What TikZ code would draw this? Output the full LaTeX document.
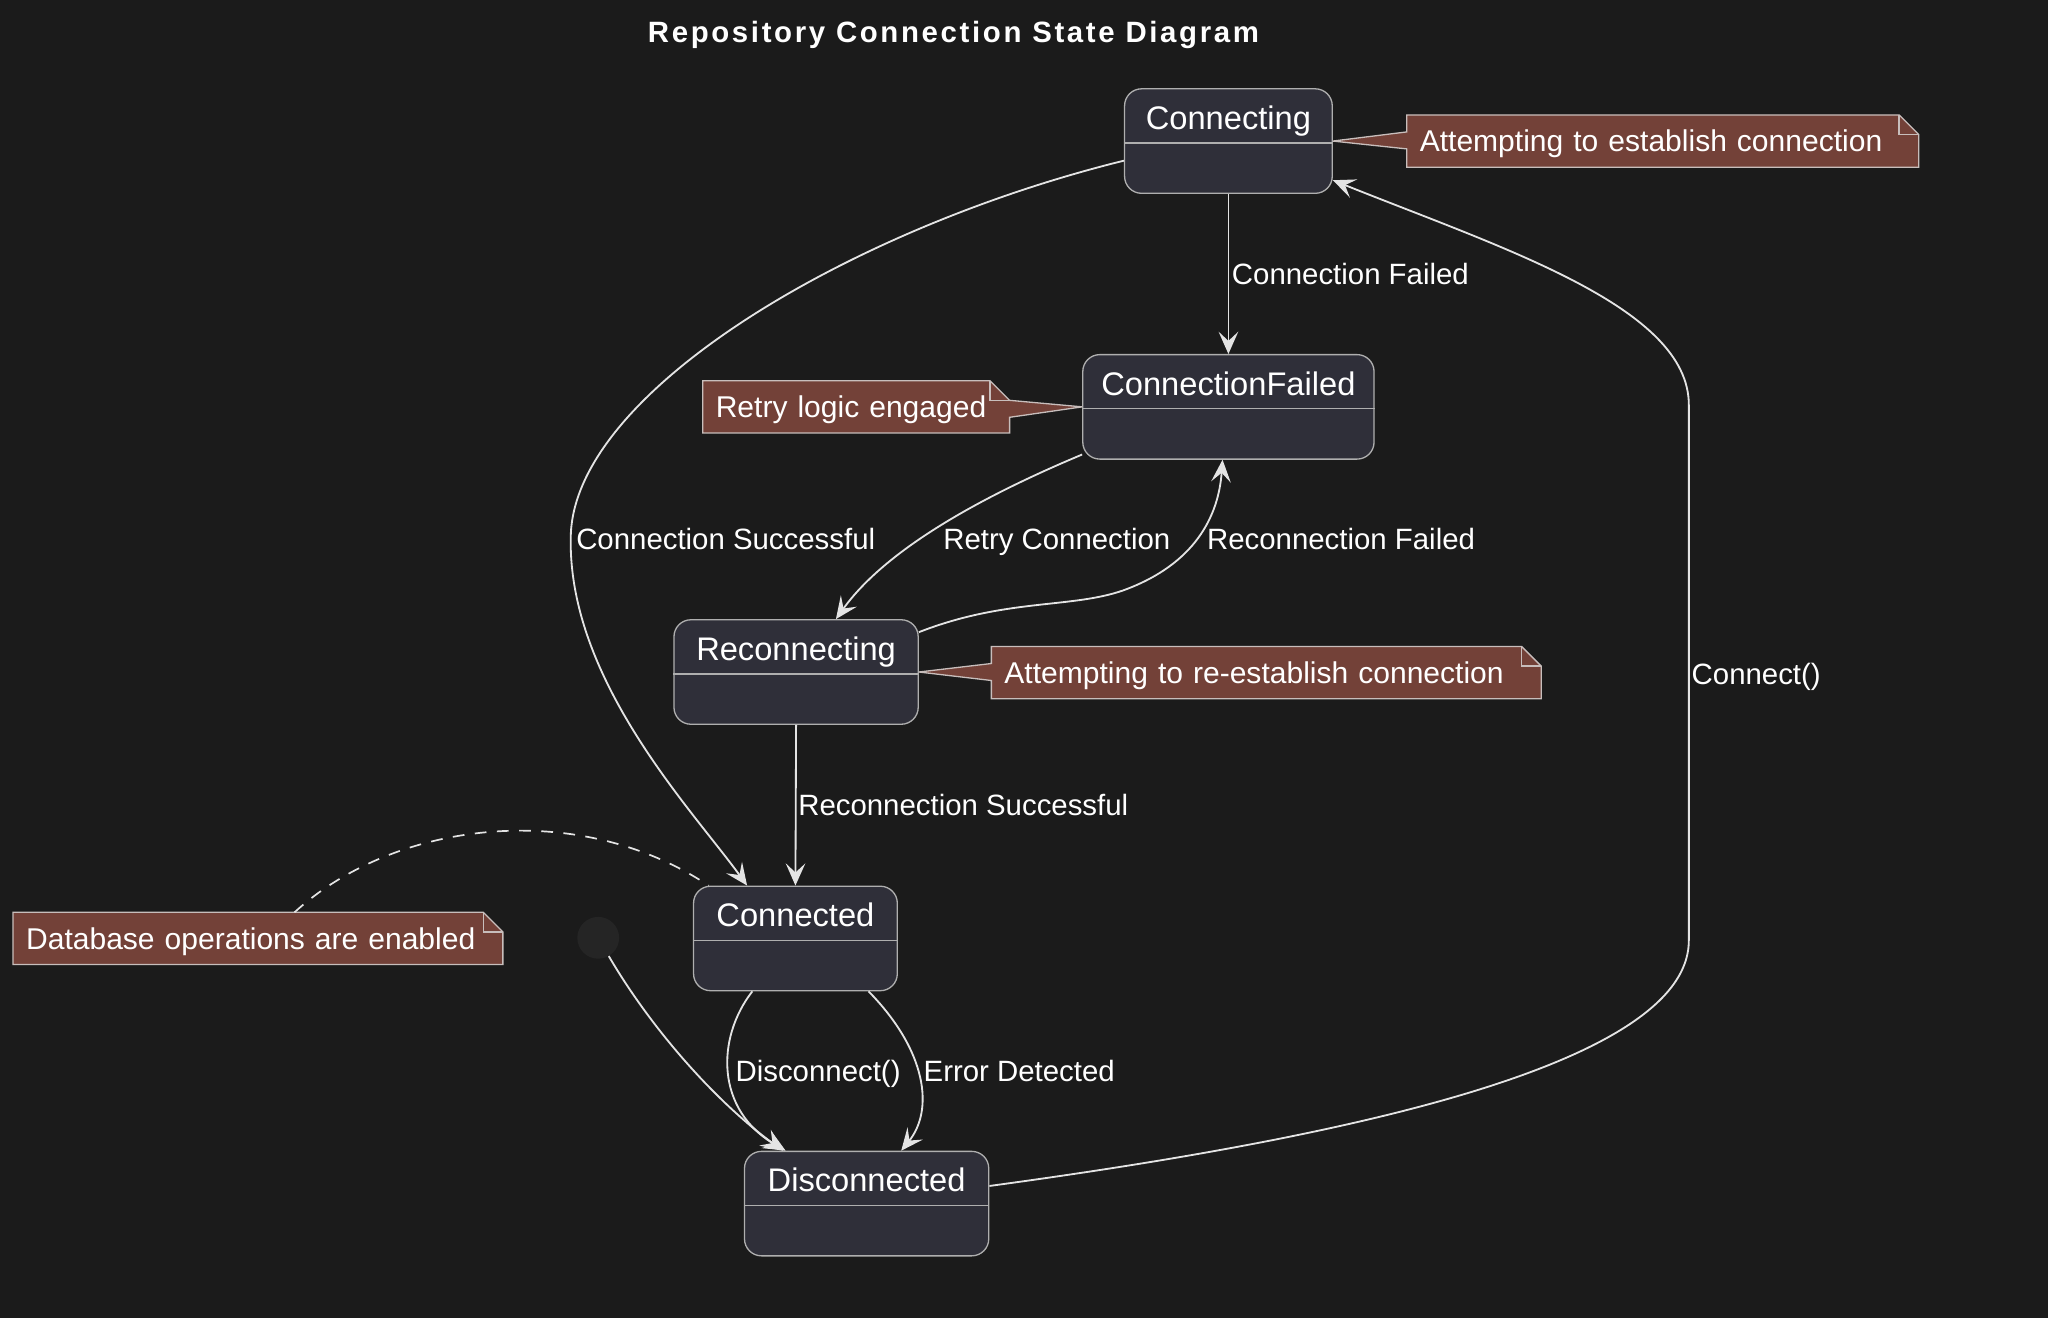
\documentclass[tikz,border=0pt]{standalone}
\usepackage{fontspec}
\setmainfont{Liberation Sans}
\usetikzlibrary{arrows.meta,backgrounds}
\definecolor{bgdark}{RGB}{27,27,27}
\definecolor{stfill}{RGB}{47,47,57}
\definecolor{stline}{RGB}{175,175,175}
\definecolor{notefill}{RGB}{115,65,56}
\definecolor{noteline}{RGB}{200,190,188}
\definecolor{edgec}{RGB}{228,228,228}
\definecolor{initc}{RGB}{37,37,37}

\begin{document}
\begin{tikzpicture}[x=1pt, y=-1pt,
  stbox/.style={draw=stline, fill=stfill, line width=1pt, rounded corners=13pt,
    minimum height=80pt, inner sep=0pt, text height=31pt, text depth=49pt,
    text=white, font=\fontsize{25}{30}\selectfont},
  stdiv/.style={draw=stline, line width=1pt},
  notetxt/.style={inner xsep=10pt, inner ysep=0pt, outer sep=0pt, minimum height=40pt,
    align=left, text height=16.5pt, text depth=0pt, text=white,
    font=\fontsize{23}{28}\selectfont},
  notebox/.style={draw=noteline, fill=notefill, line width=1pt},
  trans/.style={draw=edgec, line width=1.4pt, -{Stealth[length=17pt,width=15pt,inset=7pt]}},
  notelink/.style={draw=edgec, line width=1.3pt, dash pattern=on 9pt off 8pt},
  edgelbl/.style={anchor=west, inner sep=0pt, text height=16pt, text depth=0pt,
    text=white, font=\fontsize{22.5}{27}\selectfont},
  initst/.style={circle, fill=initc, minimum size=32pt, inner sep=0pt}]
  \useasboundingbox (0,0) rectangle (1568,1009);
  \begin{scope}[on background layer]
    \fill[bgdark] (0,0) rectangle (1568,1009);
  \end{scope}
  % title
  \node[text=white, font=\fontsize{22.5}{27}\bfseries\addfontfeature{LetterSpace=9}] (title) at (730,27) {Repository Connection State Diagram};
  % states
  \node[stbox, minimum width=159pt] (connecting) at (940.5,108) {Connecting};
  \node[stbox, minimum width=223pt] (failed) at (940.5,311.5) {ConnectionFailed};
  \node[stbox, minimum width=187pt] (reconn) at (609.5,514.5) {Reconnecting};
  \node[stbox, minimum width=156pt] (connected) at (609,718.5) {Connected};
  \node[stbox, minimum width=187pt] (disc) at (663.5,921.5) {Disconnected};
  \foreach \s in {connecting,failed,reconn,connected,disc}
    \draw[stdiv] ([yshift=-42pt]\s.north west) -- ([yshift=-42pt]\s.north east);
  \node[initst] (init) at (458,718) {};
  % notes
  \node[notetxt, text width=372pt] (n1) at (1273,108) {Attempting to establish connection};
  \node[notetxt, text width=215pt] (n2) at (655.5,311.5) {Retry logic engaged};
  \node[notetxt, text width=401pt] (n3) at (969.5,515) {Attempting to re-establish connection};
  \node[notetxt, text width=355pt] (n4) at (197.5,718.5) {Database operations are enabled};
  % note outlines, under the note texts
  \begin{scope}[on background layer]
  \draw[notebox] (n1.north west) -- ([xshift=-15pt]n1.north east) -- ([yshift=-15pt]n1.north east)
    -- (n1.south east) -- (n1.south west) -- ([yshift=-26pt]n1.north west)
    -- (connecting.east) -- ([yshift=-13pt]n1.north west) -- cycle;
  \draw[notebox] (n2.north west) -- ([xshift=-15pt]n2.north east) -- ([yshift=-15pt]n2.north east)
    -- (failed.west) -- ([yshift=-28pt]n2.north east) -- (n2.south east) -- (n2.south west) -- cycle;
  \draw[notebox] (n3.north west) -- ([xshift=-15pt]n3.north east) -- ([yshift=-15pt]n3.north east)
    -- (n3.south east) -- (n3.south west) -- ([yshift=-26pt]n3.north west)
    -- (reconn.east) -- ([yshift=-13pt]n3.north west) -- cycle;
  \draw[notebox] (n4.north west) -- ([xshift=-15pt]n4.north east) -- ([yshift=-15pt]n4.north east)
    -- (n4.south east) -- (n4.south west) -- cycle;
  \foreach \n in {n1,n2,n3,n4}
    \draw[noteline, line width=1pt] ([xshift=-15pt]\n.north east) |- ([yshift=-15pt]\n.north east);
  \end{scope}
  % transitions
  \draw[trans] ([yshift=-15pt]connecting.west) .. controls (650,175) and (440,300) .. (437,410)
    .. controls (434,520) and (530,620) .. ([xshift=-37pt]connected.north);
  \draw[trans] (connecting.south) -- (failed.north);
  \draw[trans] ([yshift=4pt]failed.south west) .. controls (740,385) and (675,425) .. ([xshift=30.5pt]reconn.north);
  \draw[trans] ([yshift=30.5pt]reconn.east) .. controls (770,458) and (820,466) .. (860,452)
    .. controls (915,432) and (933,395) .. ([xshift=-4.5pt]failed.south);
  \draw[trans] (reconn.south) -- (connected.north);
  \draw[trans] ([xshift=-33pt]connected.south) .. controls (548,795) and (548,850) .. ([xshift=-62pt]disc.north);
  \draw[trans] ([xshift=56pt]connected.south) .. controls (710,805) and (715,850) .. ([xshift=26.5pt]disc.north);
  \draw[trans] (init.-60) .. controls (500,790) and (550,845) .. ([xshift=-64pt]disc.north);
  \draw[trans] ([yshift=13.5pt]disc.east) .. controls (1000,875) and (1293,820) .. (1293,720)
    -- (1293,310) .. controls (1293,235) and (1150,190) .. ([yshift=-30pt]connecting.east);
  % note link
  \draw[notelink] ([xshift=28pt]n4.north) .. controls (300,630) and (440,610) .. ([xshift=12pt]connected.north west);
  % labels
  \foreach \n/\x/\y/\t in {cf/943/210/Connection Failed, cs/441/413/Connection Successful,
      rc/722/413/Retry Connection, rf/924/413/Reconnection Failed,
      rs/611/616/Reconnection Successful, dc/563/820/Disconnect(),
      ed/707/820/Error Detected, cn/1295/516/Connect()}
    \node[edgelbl] (lbl-\n) at (\x,\y) {\t};
\end{tikzpicture}
\end{document}
